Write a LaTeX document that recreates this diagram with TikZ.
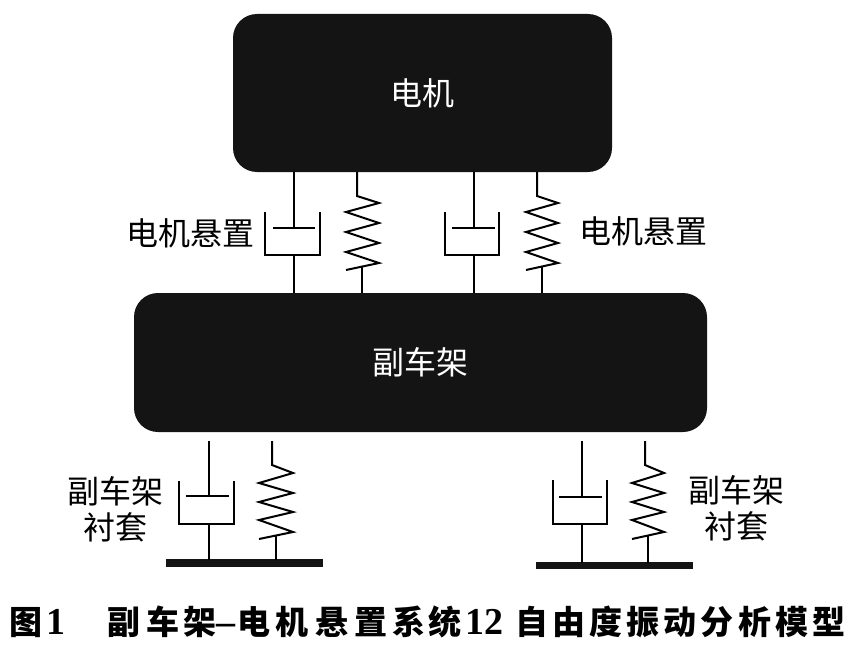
\documentclass[tikz,border=0pt]{standalone}
\usepackage{fontspec}
\newfontfamily\cjk{Noto Sans CJK SC}
\newfontfamily\digitfont{Liberation Serif}
\begin{document}
\begin{tikzpicture}[x=1pt,y=-1pt,
  blockbox/.style={fill=black!92,draw=none,rounded corners=24pt,text=white,font=\cjk\fontsize{32}{32}\selectfont},
  mech/.style={line width=2pt,line cap=butt,line join=miter},
  lbl/.style={font=\cjk\fontsize{32}{36}\selectfont,align=center,inner sep=0pt},
  capc/.style={font=\cjk\bfseries\fontsize{33}{33}\selectfont,inner sep=0pt,anchor=base},
  capd/.style={font=\digitfont\bfseries\fontsize{38}{38}\selectfont,inner sep=0pt,anchor=base},
  groundbar/.style={fill=black!92,draw=none}]
\useasboundingbox (0,0) rectangle (852,661);
\fill[white] (0,0) rectangle (852,661);

% main blocks
\node[blockbox,minimum width=379pt,minimum height=158pt] (motor) at (422.5,93) {电机};
\node[blockbox,minimum width=573pt,minimum height=139pt] (frame) at (420.5,362.5) {副车架};

% ---------- upper mounts ----------
% damper 1
\draw[mech] (294,172) -- (294,228);
\draw[mech] (273,228) -- (315,228);
\draw[mech] (265,212) -- (265,255) -- (320,255) -- (320,212);
\draw[mech] (294,255) -- (294,293);
% spring 1
\draw[mech] (357,172) -- (357,196) -- (379,203) -- (346,212) -- (379,223) -- (346,232)
  -- (379,243) -- (346,252) -- (379,263) -- (346,270);
\draw[mech] (362,266.6) -- (362,293);
% damper 2
\draw[mech] (474,172) -- (474,228);
\draw[mech] (452,228) -- (495,228);
\draw[mech] (445,212) -- (445,255) -- (499,255) -- (499,212);
\draw[mech] (474,255) -- (474,293);
% spring 2
\draw[mech] (537,172) -- (537,196) -- (558,203) -- (526,212) -- (558,223) -- (526,232)
  -- (558,243) -- (526,252) -- (558,263) -- (526,270);
\draw[mech] (542,266.4) -- (542,293);

\node[lbl] (lmL) at (190,233) {电机悬置};
\node[lbl] (lmR) at (643,231) {电机悬置};

% ---------- lower mounts ----------
% ground bars
\fill[groundbar] (166,559) rectangle (323,567);
\fill[groundbar] (536,562) rectangle (693,569);
% left damper
\draw[mech] (209,441) -- (209,496);
\draw[mech] (186,496) -- (229,496);
\draw[mech] (179,481) -- (179,524) -- (234,524) -- (234,481);
\draw[mech] (209,524) -- (209,560);
% left spring
\draw[mech] (272,441) -- (272,465) -- (293,473) -- (259,483) -- (293,493) -- (259,502)
  -- (293,512) -- (259,520) -- (293,532) -- (259,539);
\draw[mech] (276,535.5) -- (276,560);
% right damper
\draw[mech] (582,441) -- (582,497);
\draw[mech] (559,497) -- (602,497);
\draw[mech] (553,480) -- (553,524) -- (607,524) -- (607,480);
\draw[mech] (582,524) -- (582,563);
% right spring
\draw[mech] (645,441) -- (645,465) -- (664,473) -- (632,483) -- (664,493) -- (632,502)
  -- (664,512) -- (632,520) -- (664,532) -- (632,539);
\draw[mech] (648,535.7) -- (648,563);

\node[lbl] (lbL) at (115,509) {副车架\\[0pt]衬套};
\node[lbl] (lbR) at (736,508) {副车架\\[0pt]衬套};

% ---------- caption ----------
\node[capc] (c0) at (26,634) {图};
\node[capd] (c1) at (56,634) {1};
\foreach \ch/\xx [count=\i] in {副/124,车/163,架/200,电/254,机/292,悬/332,置/371,系/409,统/445,
   自/532,由/569,度/606,振/643,动/680,分/717,析/755,模/792,型/829}
  \node[capc] (cc\i) at (\xx,634) {\ch};
\node[capd] (cdash) at (226,634) {–};
\node[capd] (c12) at (484,634) {12};
\end{tikzpicture}
\end{document}
